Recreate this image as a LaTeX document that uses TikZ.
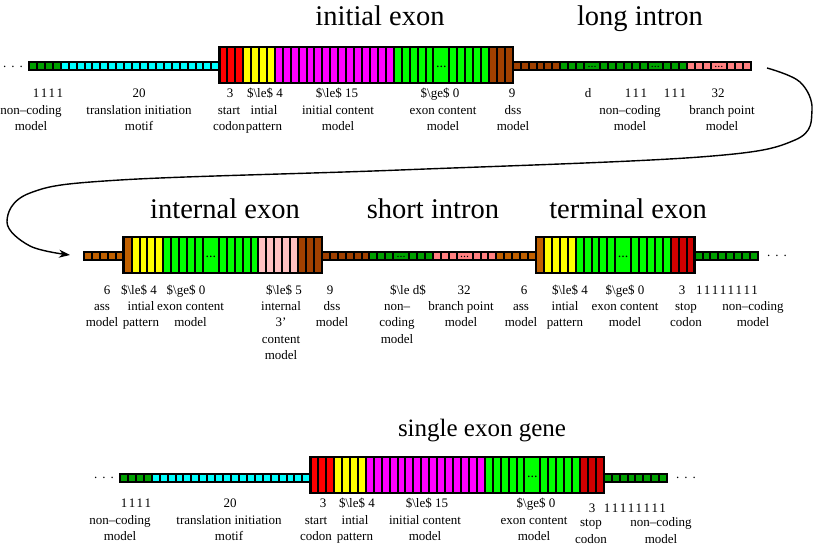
\documentclass[tikz,border=0pt]{standalone}
\usepackage{fontspec}
\setmainfont{Liberation Serif}
\usetikzlibrary{arrows.meta}
\definecolor{ncg}{HTML}{00A000}
\definecolor{cyn}{HTML}{00FFFF}
\definecolor{redA}{HTML}{FF0000}
\definecolor{redB}{HTML}{D00000}
\definecolor{yel}{HTML}{FFFF00}
\definecolor{mag}{HTML}{FF00FF}
\definecolor{grn}{HTML}{00FF00}
\definecolor{brn}{HTML}{A04000}
\definecolor{org}{HTML}{C06000}
\definecolor{pkA}{HTML}{FF8080}
\definecolor{pkB}{HTML}{FFC0C0}
\def\p{7.93}
\newcommand\onesp{\kern1.43pt}
\newcommand\bcells[5]{\foreach \k in {1,...,#4}{\draw[bigcell,fill=#5] ({#1+(#3+\k-1)*\p},#2) rectangle ++(\p,36);}}
\newcommand\tcells[5]{\foreach \k in {1,...,#4}{\draw[thincell,fill=#5] ({#1+(#3+\k-1)*\p},#2) rectangle ++(\p,8);}}
\newcommand\bwide[5]{\draw[bigcell,fill=#5] ({#2+#4*\p},#3) rectangle ++({2*\p},36);
  \node[dotsB] (#1) at ({#2+(#4+1)*\p},{#3+20.5}) {...};}
\newcommand\twide[5]{\draw[thincell,fill=#5] ({#2+#4*\p},#3) rectangle ++({2*\p},8);
  \node[dotsT] (#1) at ({#2+(#4+1)*\p},{#3+5.5}) {...};}
\newcommand\bout[4]{\draw[boxline] ({#1+#3*\p},#2) rectangle ({#1+#4*\p},{#2+36});}
\newcommand\num[4]{\node[lbl] (#1) at (#2,#3) {#4};}
\newcommand\desc[4]{\node[lbl] (#1) at (#2,#3) {\begin{tabular}[t]{@{}c@{}}#4\end{tabular}};}
\newcommand\lefmt{\$\textbackslash le\$}
\newcommand\gefmt{\$\textbackslash ge\$}
\begin{document}
\begin{tikzpicture}[x=1pt,y=-1pt,
 bigcell/.style={draw=black,line width=2pt},
 thincell/.style={draw=black,line width=2pt},
 boxline/.style={draw=black,line width=2.4pt},
 lbl/.style={inner sep=0pt,font=\fontsize{13}{16.5}\selectfont,anchor=base},
 ttl/.style={inner sep=0pt,font=\fontsize{28.5}{32}\selectfont,anchor=base},
 dotsB/.style={inner sep=0pt,font=\fontsize{14}{14}\selectfont,anchor=base},
 dotsT/.style={inner sep=0pt,font=\fontsize{12}{12}\selectfont,anchor=base},
 dotsE/.style={inner sep=0pt,font=\fontsize{13}{13}\selectfont,anchor=base},
 arr/.style={line width=1.4pt,-{Stealth[length=11pt,width=8pt]}}]
\useasboundingbox (0,0) rectangle (820,545);

% ---------------- Row 1 ----------------
\node[ttl] (t1) at (380,26) {initial exon};
\node[ttl] (t2) at (640,26) {long intron};
\node[dotsE] (e1) at (13,68) {.\kern5pt.\kern5pt.};
\tcells{29}{62}{0}{4}{ncg}
\tcells{29}{62}{4}{20}{cyn}
\bcells{29}{47}{24}{3}{redA}
\bcells{29}{47}{27}{4}{yel}
\bcells{29}{47}{31}{15}{mag}
\bcells{29}{47}{46}{5}{grn}
\bwide{da}{29}{47}{51}{grn}
\bcells{29}{47}{53}{5}{grn}
\bcells{29}{47}{58}{3}{brn}
\bout{29}{47}{24}{61}
\tcells{29}{62}{61}{6}{brn}
\tcells{29}{62}{67}{3}{ncg}
\twide{db}{29}{62}{70}{ncg}
\tcells{29}{62}{72}{6}{ncg}
\twide{dc}{29}{62}{78}{ncg}
\tcells{29}{62}{80}{3}{ncg}
\tcells{29}{62}{83}{3}{pkA}
\twide{dd}{29}{62}{86}{pkA}
\tcells{29}{62}{88}{3}{pkA}

\num{n1}{48}{97.5}{1\onesp 1\onesp 1\onesp 1}
\num{n2}{139}{97.5}{20}
\num{n3}{230}{97.5}{3}
\num{n4}{265}{97.5}{\lefmt{} 4}
\num{n5}{337}{97.5}{\lefmt{} 15}
\num{n6}{440}{97.5}{\gefmt{} 0}
\num{n7}{512}{97.5}{9}
\num{n8}{588}{97.5}{d}
\num{n9}{636}{97.5}{1\onesp 1\onesp 1}
\num{n10}{675}{97.5}{1\onesp 1\onesp 1}
\num{n11}{718}{97.5}{32}
\desc{l1}{31}{114.5}{non--coding\\model}
\desc{l2}{139}{114.5}{translation initiation\\motif}
\desc{l3}{229}{114.5}{start\\codon}
\desc{l4}{264}{114.5}{intial\\pattern}
\desc{l5}{338}{114.5}{initial content\\model}
\desc{l6}{443}{114.5}{exon content\\model}
\desc{l7}{513}{114.5}{dss\\model}
\desc{l8}{630}{114.5}{non--coding\\model}
\desc{l9}{722}{114.5}{branch point\\model}

% ---------------- Row 2 ----------------
\node[ttl] (t3) at (225,219) {internal exon};
\node[ttl] (t4) at (433,219) {short intron};
\node[ttl] (t5) at (628,219) {terminal exon};
\tcells{84}{252.5}{0}{5}{org}
\bcells{84}{237}{5}{1}{org}
\bcells{84}{237}{6}{4}{yel}
\bcells{84}{237}{10}{5}{grn}
\bwide{de}{84}{237}{15}{grn}
\bcells{84}{237}{17}{5}{grn}
\bcells{84}{237}{22}{5}{pkB}
\bcells{84}{237}{27}{3}{brn}
\bout{84}{237}{5}{30}
\tcells{84}{252.5}{30}{6}{brn}
\tcells{84}{252.5}{36}{3}{ncg}
\twide{df}{84}{252.5}{39}{ncg}
\tcells{84}{252.5}{41}{3}{ncg}
\tcells{84}{252.5}{44}{3}{pkA}
\twide{dg}{84}{252.5}{47}{pkA}
\tcells{84}{252.5}{49}{3}{pkA}
\tcells{84}{252.5}{52}{5}{org}
\bcells{84}{237}{57}{1}{org}
\bcells{84}{237}{58}{4}{yel}
\bcells{84}{237}{62}{5}{grn}
\bwide{dh}{84}{237}{67}{grn}
\bcells{84}{237}{69}{5}{grn}
\bcells{84}{237}{74}{3}{redB}
\bout{84}{237}{57}{77}
\tcells{84}{252.5}{77}{8}{ncg}
\node[dotsE] (e2) at (777,256.5) {.\kern5pt.\kern5pt.};

\num{m1}{107}{294.5}{6}
\num{m2}{139}{294.5}{\lefmt{} 4}
\num{m3}{186}{294.5}{\gefmt{} 0}
\num{m4}{284}{294.5}{\lefmt{} 5}
\num{m5}{330}{294.5}{9}
\num{m6}{408}{294.5}{\$\textbackslash le d\$}
\num{m7}{464}{294.5}{32}
\num{m8}{524}{294.5}{6}
\num{m9}{570}{294.5}{\lefmt{} 4}
\num{m10}{625}{294.5}{\gefmt{} 0}
\num{m11}{682}{294.5}{3}
\num{m12}{727}{294.5}{1\onesp 1\onesp 1\onesp 1\onesp 1\onesp 1\onesp 1\onesp 1}
\desc{k1}{102}{310.5}{ass\\model}
\desc{k2}{141}{310.5}{intial\\pattern}
\desc{k3}{190.5}{310.5}{exon content\\model}
\desc{k4}{281}{310.5}{internal\\3'\\content\\model}
\desc{k5}{332}{310.5}{dss\\model}
\desc{k6}{397}{310.5}{non--\\coding\\model}
\desc{k7}{461}{310.5}{branch point\\model}
\desc{k8}{521}{310.5}{ass\\model}
\desc{k9}{565}{310.5}{intial\\pattern}
\desc{k10}{625}{310.5}{exon content\\model}
\desc{k11}{686}{310.5}{stop\\codon}
\desc{k12}{753}{310.5}{non--coding\\model}

% ---------------- Row 3 ----------------
\node[ttl,font=\fontsize{25}{30}\selectfont] (t6) at (482,436) {single exon gene};
\node[dotsE] (e3) at (104,478.5) {.\kern5pt.\kern5pt.};
\tcells{120}{473.5}{0}{4}{ncg}
\tcells{120}{473.5}{4}{20}{cyn}
\bcells{120}{457}{24}{3}{redA}
\bcells{120}{457}{27}{4}{yel}
\bcells{120}{457}{31}{15}{mag}
\bcells{120}{457}{46}{5}{grn}
\bwide{di}{120}{457}{51}{grn}
\bcells{120}{457}{53}{5}{grn}
\bcells{120}{457}{58}{3}{redB}
\bout{120}{457}{24}{61}
\tcells{120}{473.5}{61}{8}{ncg}
\node[dotsE] (e4) at (686,478.5) {.\kern5pt.\kern5pt.};

\num{q1}{136}{507.5}{1\onesp 1\onesp 1\onesp 1}
\num{q2}{230}{507.5}{20}
\num{q3}{323}{507.5}{3}
\num{q4}{357}{507.5}{\lefmt{} 4}
\num{q5}{427}{507.5}{\lefmt{} 15}
\num{q6}{536}{507.5}{\gefmt{} 0}
\num{q7}{592}{512}{3}
\num{q8}{635}{512}{1\onesp 1\onesp 1\onesp 1\onesp 1\onesp 1\onesp 1\onesp 1}
\desc{r1}{120}{524.5}{non--coding\\model}
\desc{r2}{229}{524.5}{translation initiation\\motif}
\desc{r3}{316}{524.5}{start\\codon}
\desc{r4}{355}{524.5}{intial\\pattern}
\desc{r5}{425}{524.5}{initial content\\model}
\desc{r6}{534}{524.5}{exon content\\model}
\node[lbl,anchor=south,align=center] (r7) at (591,543.5) {stop\\codon};
\node[lbl,anchor=south,align=center] (r8) at (661,543.5) {non--coding\\model};

% ---------------- connector ----------------
\coordinate (c0) at (767,68);
\coordinate (c1) at (800,82);
\coordinate (c2) at (812,110);
\coordinate (c3) at (795,140);
\coordinate (c4) at (700,157);
\coordinate (c5) at (400,170);
\coordinate (c6) at (120,180);
\coordinate (c7) at (30,193);
\coordinate (c8) at (7,222);
\coordinate (c9) at (30,246);
\coordinate (c10) at (70,255);
\draw[arr] plot[smooth,tension=0.6] coordinates {(c0) (c1) (c2) (c3) (c4) (c5) (c6) (c7) (c8) (c9) (c10)};
\end{tikzpicture}
\end{document}
